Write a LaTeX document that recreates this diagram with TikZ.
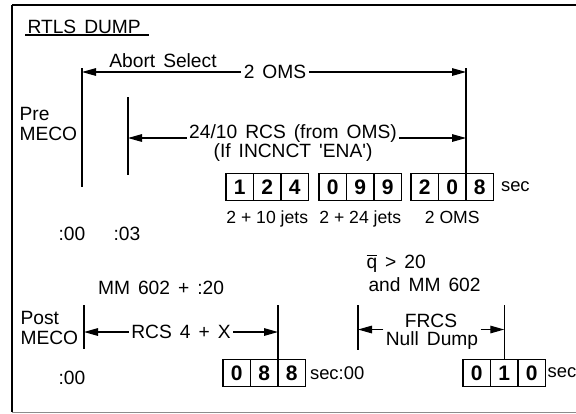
\documentclass[tikz,border=0pt]{standalone}
\usepackage{fontspec}
\setmainfont{Liberation Sans}[WordSpace=1.5]
\newfontfamily\jetsfont{Liberation Sans}
\usetikzlibrary{positioning, arrows.meta, calc}

\begin{document}
\begin{tikzpicture}[
    x=0.5pt, y=-0.5pt,
    line width=0.55pt,
    lbl/.style={inner sep=1pt, font=\fontsize{9.6}{10}\selectfont},
    jetlbl/.style={inner sep=1pt, font=\jetsfont\fontsize{8.8}{10}\selectfont},
    seclbl/.style={inner sep=0.5pt, font=\fontsize{9.2}{10}\selectfont},
    digitbox/.style={draw, rectangle, line width=0.8pt, minimum width=13.75pt, minimum height=13.5pt, inner sep=0pt, outer sep=0pt, font=\fontsize{10.5}{11}\selectfont\bfseries},
    arrow/.style={-{Triangle[length=7pt,width=3.8pt]}}
]
    \useasboundingbox (0,0) rectangle (576,413);

    % --- Frame ---
    \draw[line width=1pt] (12,5) -- (576,5);
    \draw[line width=0.8pt] (12,5) -- (12,412);
    \draw[line width=0.5pt, black!45] (12,412) -- (576,412);

    % --- Title ---
    \node[lbl, anchor=base west] (title) at (25,33.3) {RTLS DUMP};
    \draw[line width=1pt] ($(title.base west)+(0,2)$) -- ($(title.base east)+(6,2)$);

    % --- Pre MECO ---
    \node[lbl, anchor=west, align=left] (pre) at (17,124) {Pre\\MECO};
    \node[lbl] (absel) at (163,61) {Abort Select};
    \node[lbl] (oms) at (275,72) {2 OMS};
    \node[lbl, anchor=base] (rcsa) at (293,138) {24/10 RCS (from OMS)};
    \node[lbl, anchor=base] (rcsb) at (293,157) {(If INCNCT \textquotesingle ENA\textquotesingle)};

    % boxes
    \node[digitbox, anchor=west] (a1) at (226,187) {1};
    \node[digitbox, anchor=west] (a2) at (a1.east) {2};
    \node[digitbox, anchor=west] (a3) at (a2.east) {4};
    \node[digitbox, anchor=west] (b1) at (319,187) {0};
    \node[digitbox, anchor=west] (b2) at (b1.east) {9};
    \node[digitbox, anchor=west] (b3) at (b2.east) {9};
    \node[digitbox, anchor=west] (c1) at (411,187) {2};
    \node[digitbox, anchor=west] (c2) at (c1.east) {0};
    \node[digitbox, anchor=west] (c3) at (c2.east) {8};
    \node[seclbl, right=3pt of c3] (sec1) {sec};

    \node[jetlbl, below=4pt of a2] (jet1) {2 + 10 jets};
    \node[jetlbl, below=4pt of b2] (jet2) {2 + 24 jets};
    \node[jetlbl, below=4pt of c2] (jet3) {2 OMS};

    \node[lbl] (pt0) at (72,234) {:00};
    \node[lbl] (pt3) at (127,234) {:03};

    % ticks
    \coordinate (t1a) at (82,68);
    \coordinate (t1b) at (82,187);
    \coordinate (t2a) at (128,97);
    \coordinate (t2b) at (128,175);
    \coordinate (t3a) at (c3.north west |- t1a);
    \draw (t1a) -- (t1b);
    \draw (t2a) -- (t2b);
    \draw (t3a) -- (c3.north west);

    \draw[arrow] (oms.west) -- (oms.west -| t1a);
    \draw[arrow] (oms.east) -- (oms.east -| t3a);
    \draw[arrow] (rcsa.base west) -- (rcsa.base west -| t2a);
    \draw[arrow] (rcsa.base east) -- (rcsa.base east -| t3a);

    % --- Post MECO ---
    \node[lbl] (mm) at (161,288) {MM 602 + :20};
    \node[lbl, anchor=west, align=left] (post) at (18,328) {Post\\MECO};
    \node[lbl] (rcsx) at (181,332) {RCS 4 + X};

    \node[digitbox, anchor=west] (d1) at (223,373) {0};
    \node[digitbox, anchor=west] (d2) at (d1.east) {8};
    \node[digitbox, anchor=west] (d3) at (d2.east) {8};
    \node[seclbl, right=1.5pt of d3] (sec2) {sec:00};
    \node[lbl] (pp0) at (72,377.5) {:00};

    \coordinate (p1a) at (84,305);
    \coordinate (p1b) at (84,349);
    \coordinate (p2a) at (d3.north west |- p1a);
    \draw (p1a) -- (p1b);
    \draw (p2a) -- (d3.north west);
    \draw[arrow] (rcsx.west) -- (rcsx.west -| p1a);
    \draw[arrow] (rcsx.east) -- (rcsx.east -| p2a);

    % --- FRCS null dump ---
    \node[lbl, anchor=west] (qbar) at (364,263) {$\overline{\mbox{q}}$ > 20};
    \node[lbl, anchor=west] (andmm) at (366,285) {and MM 602};
    \node[lbl] (frcs) at (431,321) {FRCS};
    \node[lbl] (null) at (432,341) {Null Dump};

    \node[digitbox, anchor=west] (e1) at (463,373) {0};
    \node[digitbox, anchor=west] (e2) at (e1.east) {1};
    \node[digitbox, anchor=west] (e3) at (e2.east) {0};
    \node[seclbl, right=0.3pt of e3] (sec3) {sec};

    \coordinate (f1a) at (358,305);
    \coordinate (f1b) at (358,350);
    \coordinate (f2a) at (e2.north |- f1a);
    \draw (f1a) -- (f1b);
    \draw (f2a) -- (e2.north);
    \draw[arrow] (null.north west) -- (null.north west -| f1a);
    \draw[arrow] (null.north east) -- (null.north east -| f2a);

\end{tikzpicture}
\end{document}
